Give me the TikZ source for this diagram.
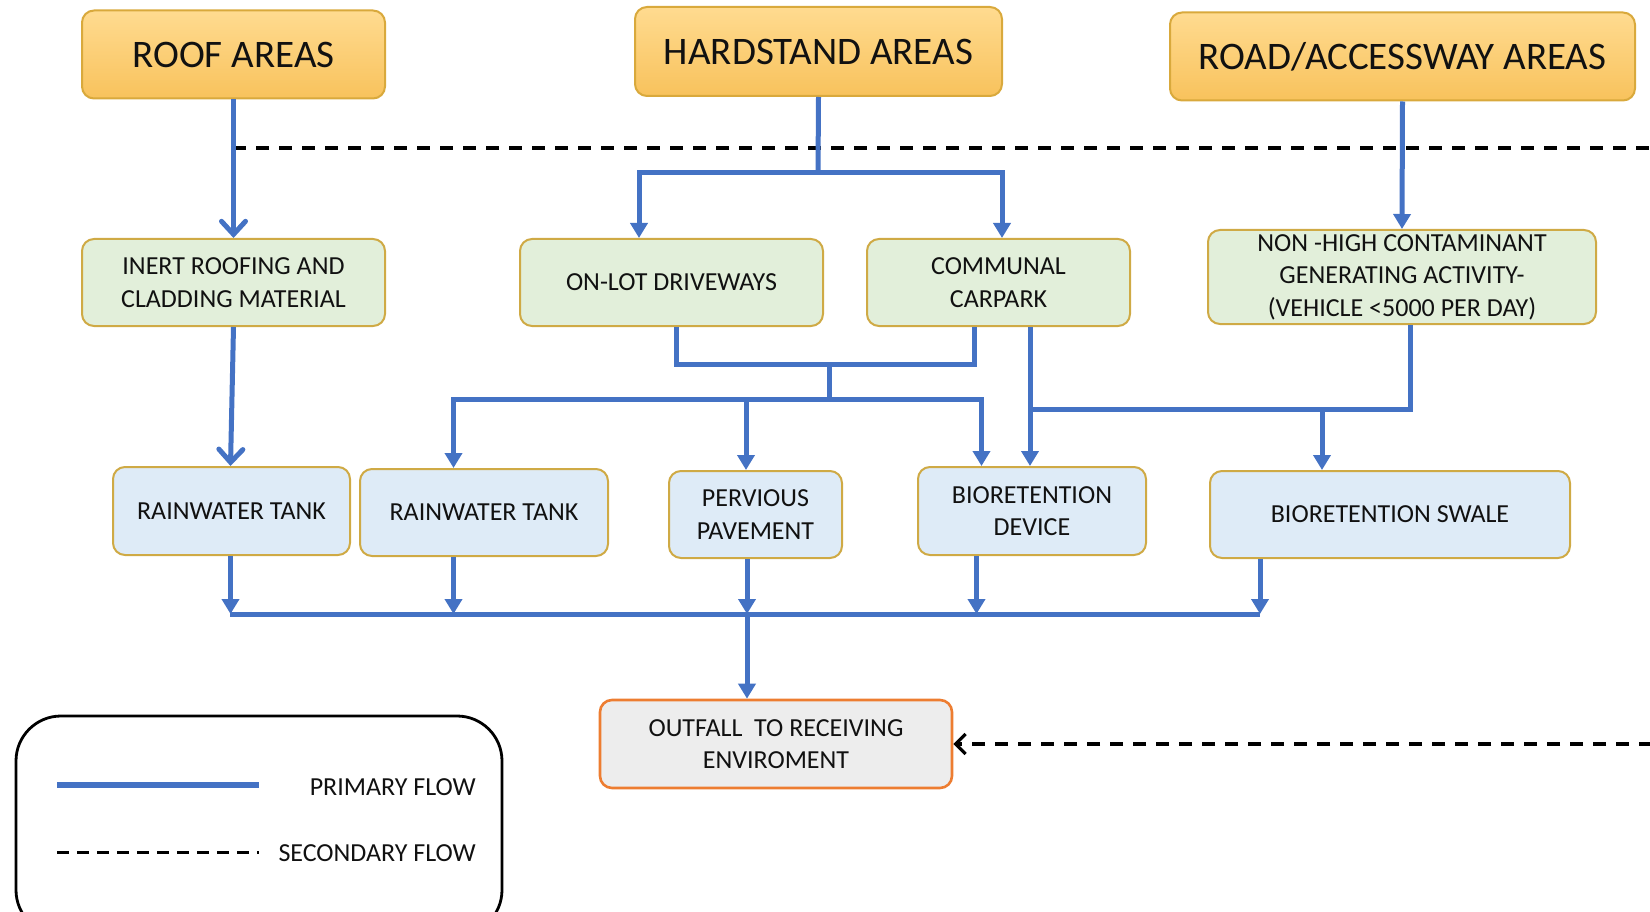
\documentclass[tikz,border=0pt]{standalone}
\usepackage{fontspec}
\setmainfont{Carlito}
\usetikzlibrary{arrows.meta}
\definecolor{flowblue}{HTML}{4472C4}
\definecolor{goldb}{HTML}{CFAA45}
\definecolor{orgb}{HTML}{D9A93C}
\definecolor{orgtop}{HTML}{FFDB90}
\definecolor{orgbot}{HTML}{F8C25C}
\definecolor{greenf}{HTML}{E2EFDA}
\definecolor{bluef}{HTML}{DEEBF7}
\definecolor{grayf}{HTML}{EDEDED}
\definecolor{outb}{HTML}{ED7D31}
\definecolor{txt}{HTML}{111111}
\tikzset{
  box/.style={draw, rounded corners=12pt, line width=2pt, inner sep=0pt, align=center, text=txt, font=\fontsize{26}{32.6}\selectfont},
  topbox/.style={box, draw=orgb, top color=orgtop, bottom color=orgbot, font=\fontsize{39}{46}\selectfont},
  greenbox/.style={box, draw=goldb, fill=greenf},
  bluebox/.style={box, draw=goldb, fill=bluef},
  outbox/.style={box, draw=outb, fill=grayf, line width=2.6pt},
  flow/.style={draw=flowblue, line width=5pt},
  flowa/.style={flow, -{Triangle[length=15pt,width=17pt]}},
  flowv/.style={flow, -{Straight Barb[length=13pt,width=24pt,line cap=round]}},
  sec/.style={draw=black, line width=3.2pt, dash pattern=on 13pt off 10pt},
  seca/.style={sec, -{Straight Barb[length=10pt,width=20pt]}},
  legtxt/.style={anchor=east, text=txt, inner sep=0pt, font=\fontsize{26}{30}\selectfont}
}
\begin{document}
\begin{tikzpicture}[x=1pt,y=-1pt]
\useasboundingbox (0,0) rectangle (1650,912);
\clip (0,0) rectangle (1650,912);

% secondary flow lines (behind)
\coordinate (d1) at (233,148);
\coordinate (d1e) at (1652,148);
\draw[sec] (d1) -- (d1e);

% top boxes
\node[topbox, minimum width=303pt, minimum height=88pt] (roof) at (233.5,54.5) {ROOF AREAS};
\node[topbox, minimum width=367pt, minimum height=89pt] (hard) at (818.5,51.5) {HARDSTAND AREAS};
\node[topbox, minimum width=465pt, minimum height=88pt] (road) at (1402.5,56.5) {ROAD/ACCESSWAY AREAS};

% second row
\node[greenbox, minimum width=303pt, minimum height=87pt] (inert) at (233.5,282.5) {INERT ROOFING AND\\CLADDING MATERIAL};
\node[greenbox, minimum width=303pt, minimum height=87pt] (onlot) at (671.5,282.5) {ON-LOT DRIVEWAYS};
\node[greenbox, minimum width=263pt, minimum height=87pt] (comm) at (998.5,282.5) {COMMUNAL\\CARPARK};
\node[greenbox, minimum width=388pt, minimum height=94pt] (nonhigh) at (1402,277) {NON -HIGH CONTAMINANT\\GENERATING ACTIVITY-\\(VEHICLE <5000 PER DAY)};

% third row
\node[bluebox, minimum width=237pt, minimum height=88pt] (tank1) at (231.5,511) {RAINWATER TANK};
\node[bluebox, minimum width=248pt, minimum height=87pt] (tank2) at (484,512.5) {RAINWATER TANK};
\node[bluebox, minimum width=173pt, minimum height=87pt] (perv) at (755.5,514.5) {PERVIOUS\\PAVEMENT};
\node[bluebox, minimum width=228pt, minimum height=88pt] (biodev) at (1032,511) {BIORETENTION\\DEVICE};
\node[bluebox, minimum width=360pt, minimum height=87pt] (swale) at (1390,514.5) {BIORETENTION SWALE};

% outfall
\node[outbox, minimum width=352pt, minimum height=88pt] (outfall) at (776,744) {OUTFALL\ \ TO RECEIVING\\ENVIROMENT};

% secondary into outfall
\coordinate (d2) at (1652,744);
\draw[seca] (d2) -- (outfall.east);

% roof
\draw[flowv] (roof.south) -- (inert.north);
\draw[flowv] (inert.south) -- ([xshift=-1pt]tank1.north);

% hardstand
\coordinate (hsj) at (818,173);
\draw[flow] (hard.south) -- (hsj);
\draw[flowa] (hsj) -| ([xshift=-32.5pt]onlot.north);
\draw[flowa] (hsj) -| ([xshift=3.5pt]comm.north);

% road
\draw[flowa] (road.south) -- (nonhigh.north);

% driveways + carpark merge
\coordinate (jA) at (829,364);
\coordinate (jB) at (829,399);
\draw[flow] ([xshift=4.5pt]onlot.south) |- (jA) -| ([xshift=-24.5pt]comm.south);
\draw[flow] (jA) -- (jB);
\draw[flowa] (jB) -| ([xshift=-30.5pt]tank2.north);
\draw[flowa] (jB) -| ([xshift=-50.5pt]biodev.north);
\draw[flowa] ([xshift=-9.5pt]perv.north |- jB) -- ([xshift=-9.5pt]perv.north);

% carpark to bioretention device
\draw[flowa] ([xshift=31.5pt]comm.south) -- ([xshift=31.5pt]comm.south |- biodev.north);

% non-high to device / swale
\coordinate (jC) at (1030,409);
\draw[flow] ([xshift=8pt]nonhigh.south) |- (jC);
\draw[flowa] ([xshift=-68pt]swale.north |- jC) -- ([xshift=-68pt]swale.north);

% bottom collector
\coordinate (bL) at (230,614);
\coordinate (bR) at (1260,614);
\draw[flow] (bL) -- (bR);
\draw[flowa] ([xshift=-1pt]tank1.south) -- ([xshift=-1pt]tank1.south |- bL);
\draw[flowa] ([xshift=-30.5pt]tank2.south) -- ([xshift=-30.5pt]tank2.south |- bL);
\draw[flowa] ([xshift=-8.5pt]perv.south) -- ([xshift=-8.5pt]perv.south |- bL);
\draw[flowa] ([xshift=-55.5pt]biodev.south) -- ([xshift=-55.5pt]biodev.south |- bL);
\draw[flowa] ([xshift=-130pt]swale.south) -- ([xshift=-130pt]swale.south |- bR);
\draw[flowa] ([xshift=-29pt]outfall.north |- bL) -- ([xshift=-29pt]outfall.north);

% legend
\draw[line width=2.8pt, rounded corners=45pt] (16,716) rectangle (502,935);
\coordinate (lp1) at (57,785);
\coordinate (lp2) at (259,785);
\draw[flow, line width=6pt] (lp1) -- (lp2);
\node[legtxt] (ptxt) at (476,787) {PRIMARY FLOW};
\coordinate (ls1) at (57,852);
\coordinate (ls2) at (259,852);
\draw[draw=black, line width=3pt, dash pattern=on 12pt off 8pt] (ls1) -- (ls2);
\node[legtxt] (stxt) at (476,853) {SECONDARY FLOW};
\end{tikzpicture}
\end{document}
